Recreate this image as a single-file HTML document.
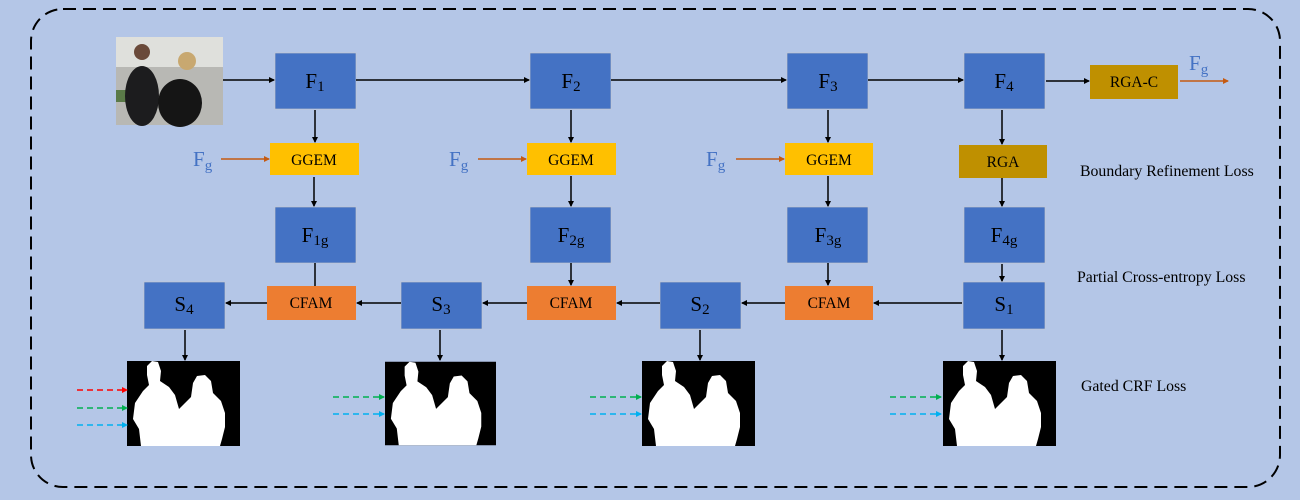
<!DOCTYPE html>
<html><head><meta charset="utf-8"><style>
html,body{margin:0;padding:0;background:#b4c6e7;}
svg{display:block;font-family:"Liberation Serif",serif;}
</style></head><body>
<svg width="1300" height="500" viewBox="0 0 1300 500" xmlns="http://www.w3.org/2000/svg">
<defs>
<marker id="ak" markerWidth="6" markerHeight="6" refX="5" refY="3" orient="auto" markerUnits="userSpaceOnUse"><path d="M0,0 L6,3 L0,6 Z" fill="#000"/></marker>
<marker id="ao" markerWidth="6" markerHeight="6" refX="5" refY="3" orient="auto" markerUnits="userSpaceOnUse"><path d="M0,0 L6,3 L0,6 Z" fill="#c55a11"/></marker>
<marker id="ar" markerWidth="6" markerHeight="6" refX="5" refY="3" orient="auto" markerUnits="userSpaceOnUse"><path d="M0,0 L6,3 L0,6 Z" fill="#ff0000"/></marker>
<marker id="ag" markerWidth="6" markerHeight="6" refX="5" refY="3" orient="auto" markerUnits="userSpaceOnUse"><path d="M0,0 L6,3 L0,6 Z" fill="#00b050"/></marker>
<marker id="ab" markerWidth="6" markerHeight="6" refX="5" refY="3" orient="auto" markerUnits="userSpaceOnUse"><path d="M0,0 L6,3 L0,6 Z" fill="#00b0f0"/></marker>
<symbol id="mask" viewBox="0 0 113 85">
<rect width="113" height="85" fill="#000"/>
<path d="M14,85 L12,68 L6,58 L8,42 L16,30 L22,24 L20,14 L20,5 L25,0 L31,1 L34,10 L33,20 L42,26 L48,34 L52,48 L58,42 L64,36 L66,22 L70,15 L78,14 L84,20 L86,32 L94,40 L98,52 L98,66 L95,78 L93,85 Z" fill="#fff"/>
</symbol>
</defs>
<rect x="31" y="9" width="1249" height="478" rx="32" ry="32" fill="none" stroke="#000" stroke-width="2" stroke-dasharray="13,7"/>

<g>
<rect x="116" y="37" width="107" height="88" fill="#b8b8b4"/>
<rect x="116" y="37" width="107" height="30" fill="#dfe0dc"/>
<rect x="116" y="90" width="30" height="12" fill="#5a7a48"/>
<ellipse cx="142" cy="96" rx="17" ry="30" fill="#1c1c1e"/>
<circle cx="142" cy="52" r="8" fill="#6a4a3a"/>
<ellipse cx="180" cy="103" rx="22" ry="24" fill="#151515"/>
<circle cx="187" cy="61" r="9" fill="#c8a870"/>
</g>

<g fill="#4472c4" stroke="#c9c9c9" stroke-width="0.6">
<rect x="275" y="53" width="81" height="56"/>
<rect x="530" y="53" width="81" height="56"/>
<rect x="787" y="53" width="81" height="56"/>
<rect x="964" y="53" width="81" height="56"/>
<rect x="275" y="207" width="81" height="56"/>
<rect x="530" y="207" width="81" height="56"/>
<rect x="787" y="207" width="81" height="56"/>
<rect x="964" y="207" width="81" height="56"/>
<rect x="144" y="282" width="81" height="47"/>
<rect x="401" y="282" width="81" height="47"/>
<rect x="660" y="282" width="81" height="47"/>
<rect x="963" y="282" width="82" height="47"/>
</g>
<g fill="#ffc000">
<rect x="270" y="143" width="89" height="32"/>
<rect x="527" y="143" width="89" height="32"/>
<rect x="785" y="143" width="88" height="32"/>
</g>
<rect x="959" y="145" width="88" height="33" fill="#bf9000"/>
<rect x="1090" y="65" width="88" height="34" fill="#bf9000"/>
<g fill="#ed7d31">
<rect x="267" y="286" width="89" height="34"/>
<rect x="527" y="286" width="89" height="34"/>
<rect x="785" y="286" width="88" height="34"/>
</g>

<g stroke="#000" stroke-width="1.5" fill="none">
<line x1="223" y1="80" x2="274" y2="80" marker-end="url(#ak)"/>
<line x1="356" y1="80" x2="529" y2="80" marker-end="url(#ak)"/>
<line x1="611" y1="80" x2="786" y2="80" marker-end="url(#ak)"/>
<line x1="868" y1="80" x2="963" y2="80" marker-end="url(#ak)"/>
<line x1="1046" y1="81" x2="1089" y2="81" marker-end="url(#ak)"/>
<line x1="315" y1="110" x2="315" y2="142" marker-end="url(#ak)"/>
<line x1="571" y1="110" x2="571" y2="142" marker-end="url(#ak)"/>
<line x1="828" y1="110" x2="828" y2="142" marker-end="url(#ak)"/>
<line x1="1002" y1="110" x2="1002" y2="144" marker-end="url(#ak)"/>
<line x1="314" y1="177" x2="314" y2="206" marker-end="url(#ak)"/>
<line x1="571" y1="176" x2="571" y2="206" marker-end="url(#ak)"/>
<line x1="828" y1="176" x2="828" y2="206" marker-end="url(#ak)"/>
<line x1="1002" y1="178" x2="1002" y2="206" marker-end="url(#ak)"/>
<line x1="315" y1="263" x2="315" y2="286"/>
<line x1="571" y1="263" x2="571" y2="285" marker-end="url(#ak)"/>
<line x1="828" y1="263" x2="828" y2="285" marker-end="url(#ak)"/>
<line x1="1002" y1="264" x2="1002" y2="281" marker-end="url(#ak)"/>
<line x1="962" y1="303" x2="874" y2="303" marker-end="url(#ak)"/>
<line x1="785" y1="303" x2="742" y2="303" marker-end="url(#ak)"/>
<line x1="660" y1="303" x2="617" y2="303" marker-end="url(#ak)"/>
<line x1="527" y1="303" x2="483" y2="303" marker-end="url(#ak)"/>
<line x1="401" y1="303" x2="357" y2="303" marker-end="url(#ak)"/>
<line x1="267" y1="303" x2="226" y2="303" marker-end="url(#ak)"/>
<line x1="185" y1="330" x2="185" y2="360" marker-end="url(#ak)"/>
<line x1="440" y1="330" x2="440" y2="360" marker-end="url(#ak)"/>
<line x1="700" y1="330" x2="700" y2="360" marker-end="url(#ak)"/>
<line x1="1002" y1="330" x2="1002" y2="360" marker-end="url(#ak)"/>
</g>
<g stroke="#c55a11" stroke-width="1.5">
<line x1="221" y1="159" x2="269" y2="159" marker-end="url(#ao)"/>
<line x1="478" y1="159" x2="526" y2="159" marker-end="url(#ao)"/>
<line x1="736" y1="159" x2="784" y2="159" marker-end="url(#ao)"/>
<line x1="1180" y1="81" x2="1228" y2="81" marker-end="url(#ao)"/>
</g>

<use href="#mask" x="127" y="361" width="113" height="85"/>
<use href="#mask" x="385" y="361" width="111" height="85"/>
<use href="#mask" x="642" y="361" width="113" height="85"/>
<use href="#mask" x="943" y="361" width="113" height="85"/>

<g stroke-width="1.5" stroke-dasharray="6,4">
<line x1="77" y1="390" x2="127" y2="390" stroke="#ff0000" marker-end="url(#ar)"/>
<line x1="77" y1="408" x2="127" y2="408" stroke="#00b050" marker-end="url(#ag)"/>
<line x1="77" y1="425" x2="127" y2="425" stroke="#00b0f0" marker-end="url(#ab)"/>
<line x1="333" y1="397" x2="384" y2="397" stroke="#00b050" marker-end="url(#ag)"/>
<line x1="333" y1="414" x2="384" y2="414" stroke="#00b0f0" marker-end="url(#ab)"/>
<line x1="590" y1="397" x2="641" y2="397" stroke="#00b050" marker-end="url(#ag)"/>
<line x1="590" y1="414" x2="641" y2="414" stroke="#00b0f0" marker-end="url(#ab)"/>
<line x1="890" y1="397" x2="941" y2="397" stroke="#00b050" marker-end="url(#ag)"/>
<line x1="890" y1="414" x2="941" y2="414" stroke="#00b0f0" marker-end="url(#ab)"/>
</g>

<g fill="#000" font-size="21" text-anchor="middle">
<text x="315" y="88">F<tspan font-size="15" dy="3">1</tspan></text>
<text x="571" y="88">F<tspan font-size="15" dy="3">2</tspan></text>
<text x="828" y="88">F<tspan font-size="15" dy="3">3</tspan></text>
<text x="1004" y="88">F<tspan font-size="15" dy="3">4</tspan></text>
<text x="315" y="242">F<tspan font-size="15" dy="3">1g</tspan></text>
<text x="571" y="242">F<tspan font-size="15" dy="3">2g</tspan></text>
<text x="828" y="242">F<tspan font-size="15" dy="3">3g</tspan></text>
<text x="1004" y="242">F<tspan font-size="15" dy="3">4g</tspan></text>
<text x="184" y="311">S<tspan font-size="15" dy="3">4</tspan></text>
<text x="441" y="311">S<tspan font-size="15" dy="3">3</tspan></text>
<text x="700" y="311">S<tspan font-size="15" dy="3">2</tspan></text>
<text x="1004" y="311">S<tspan font-size="15" dy="3">1</tspan></text>
</g>
<g fill="#000" font-size="15.5" text-anchor="middle">
<text x="314" y="165">GGEM</text>
<text x="571" y="165">GGEM</text>
<text x="829" y="165">GGEM</text>
<text x="1003" y="167">RGA</text>
<text x="1134" y="87">RGA-C</text>
<text x="311" y="308">CFAM</text>
<text x="571" y="308">CFAM</text>
<text x="829" y="308">CFAM</text>
</g>
<g fill="#4472c4" font-size="21">
<text x="193" y="166">F<tspan font-size="15" dy="4">g</tspan></text>
<text x="449" y="166">F<tspan font-size="15" dy="4">g</tspan></text>
<text x="706" y="166">F<tspan font-size="15" dy="4">g</tspan></text>
<text x="1189" y="70">F<tspan font-size="15" dy="4">g</tspan></text>
</g>
<g fill="#000" font-size="15.8">
<text x="1080" y="176">Boundary Refinement Loss</text>
<text x="1077" y="282">Partial Cross-entropy Loss</text>
<text x="1081" y="391">Gated CRF Loss</text>
</g>
</svg>
</body></html>
